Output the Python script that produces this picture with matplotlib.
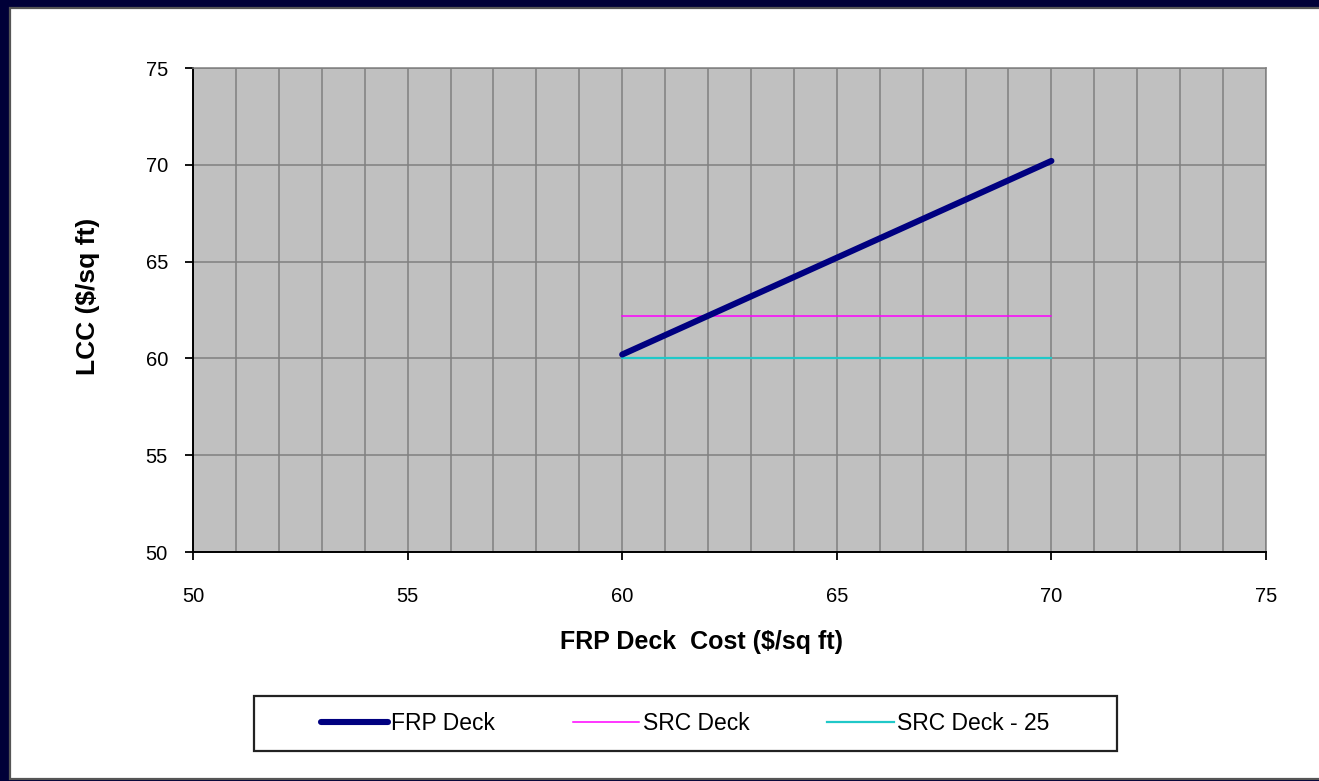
import matplotlib
matplotlib.use("Agg")
import matplotlib.pyplot as plt
from matplotlib.patches import Rectangle
from matplotlib.ticker import MultipleLocator

plt.rcParams['font.family'] = ['Liberation Sans', 'DejaVu Sans']

# Deck cost range ($/sq ft) and life-cycle cost results
deck_cost = [60, 70]
frp_lcc = [60.2, 70.2]
src_lcc = [62.2, 62.2]
src25_lcc = [60.0, 60.0]

x_limits = (50, 75)
y_limits = (50, 75)
tick_step = 5

W, H = 1319, 781
fig = plt.figure(figsize=(W / 100, H / 100), dpi=100)
fig.patch.set_facecolor('#000038')

# white slide panel
panel = Rectangle((10 / W, 1 - 779 / H), 1.2, (779 - 8) / H,
                  transform=fig.transFigure, facecolor='white',
                  edgecolor='#555555', linewidth=1.6, zorder=-10)
fig.patches.append(panel)

ax = fig.add_axes([193 / W, 1 - 552 / H, (1266 - 193) / W, (552 - 68) / H])
ax.set_zorder(1)
ax.set_facecolor('#c0c0c0')
ax.set_xlim(*x_limits)
ax.set_ylim(*y_limits)

ax.xaxis.set_major_locator(MultipleLocator(tick_step))
ax.xaxis.set_minor_locator(MultipleLocator(1))
ax.yaxis.set_major_locator(MultipleLocator(tick_step))

ax.grid(which='major', axis='y', color='#808080', linewidth=1.1)
ax.grid(which='both', axis='x', color='#808080', linewidth=1.1)
ax.set_axisbelow(True)

for side in ('top', 'right'):
    ax.spines[side].set_color('#808080')
    ax.spines[side].set_linewidth(1.1)
for side in ('left', 'bottom'):
    ax.spines[side].set_color('black')
    ax.spines[side].set_linewidth(1.4)

ax.tick_params(axis='both', which='major', direction='out', length=6,
               width=1.3, color='black', labelsize=14.5)
ax.tick_params(axis='x', which='major', pad=19)
ax.tick_params(axis='y', which='major', pad=12)
ax.tick_params(axis='x', which='minor', length=0)

l1, = ax.plot(deck_cost, frp_lcc, color='#000080', linewidth=4.4,
              solid_capstyle='round', label='FRP Deck', zorder=5)
l2, = ax.plot(deck_cost, src_lcc, color='#ff00ff', linewidth=1.1,
              label='SRC Deck', zorder=4)
l3, = ax.plot(deck_cost, src25_lcc, color='#20c8c8', linewidth=1.6,
              label='SRC Deck - 25', zorder=4)

ax.set_xlabel('FRP Deck  Cost ($/sq ft)', fontsize=18, fontweight='bold')
ax.xaxis.set_label_coords((701 - 193) / (1266 - 193), (552 - 642) / 484)
ax.xaxis.label.set_va('center')
ax.set_ylabel('LCC ($/sq ft)', fontsize=19, fontweight='bold')
ax.yaxis.set_label_coords((88 - 193) / (1266 - 193), (552 - 296) / 484)
ax.yaxis.label.set_va('center')

# legend box
box = Rectangle((254 / W, 1 - 751 / H), (1117 - 254) / W, (751 - 696) / H,
                transform=fig.transFigure, facecolor='white',
                edgecolor='#222222', linewidth=1.6, zorder=-5)
fig.patches.append(box)
leg = fig.legend(handles=[l1, l2, l3], loc='center', ncol=3,
                 bbox_to_anchor=((254 + 1117) / 2 / W, 1 - 723.5 / H),
                 frameon=False, fontsize=16.5, handlelength=2.9,
                 handletextpad=0.15, columnspacing=3.4)

fig.savefig('out.png', dpi=100, facecolor=fig.get_facecolor())
